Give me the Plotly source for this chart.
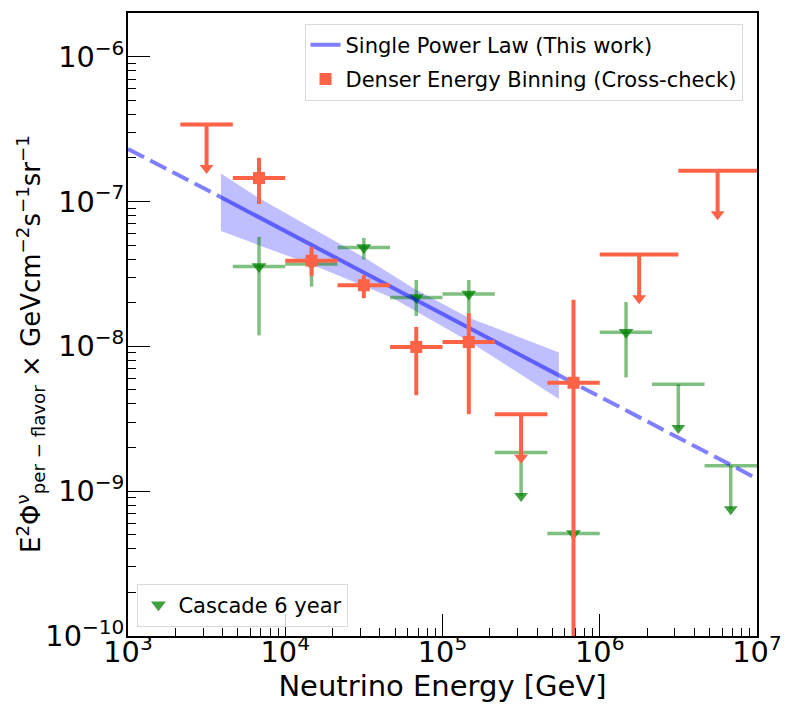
import plotly.graph_objects as go

# Denser energy binning (cross-check): measured points
red_E = [6.81e3, 1.47e4, 3.16e4, 6.81e4, 1.47e5, 6.81e5]
red_lo_E = [4.64e3, 1.0e4, 2.15e4, 4.64e4, 1.0e5, 4.64e5]
red_hi_E = [1.0e4, 2.15e4, 4.64e4, 1.0e5, 2.15e5, 1.0e6]
red_flux = [1.45e-7, 3.9e-8, 2.64e-8, 9.9e-9, 1.07e-8, 5.6e-9]
red_up = [2.0e-7, 4.85e-8, 3.1e-8, 1.36e-8, 1.69e-8, 2.1e-8]
red_low = [9.6e-8, 3.05e-8, 2.15e-8, 4.6e-9, 3.4e-9, 5e-11]

# Denser energy binning: upper limits
red_ul_E = [3.16e3, 3.16e5, 1.78e6, 5.62e6]
red_ul_lo_E = [2.15e3, 2.15e5, 1.0e6, 3.16e6]
red_ul_hi_E = [4.64e3, 4.64e5, 3.16e6, 1.0e7]
red_ul = [3.4e-7, 3.4e-9, 4.3e-8, 1.63e-7]

# Cascade 6 year: measured points
grn_E = [6.81e3, 1.47e4, 3.16e4, 6.81e4, 1.47e5, 6.81e5, 1.47e6]
grn_lo_E = [4.64e3, 1.0e4, 2.15e4, 4.64e4, 1.0e5, 4.64e5, 1.0e6]
grn_hi_E = [1.0e4, 2.15e4, 4.64e4, 1.0e5, 2.15e5, 1.0e6, 2.15e6]
grn_flux = [3.55e-8, 3.7e-8, 4.8e-8, 2.17e-8, 2.3e-8, 5.1e-10, 1.25e-8]
grn_up = [5.7e-8, 4.6e-8, 5.6e-8, 2.87e-8, 2.87e-8, 5.1e-10, 2.02e-8]
grn_low = [1.19e-8, 2.58e-8, 3.98e-8, 1.62e-8, 1.66e-8, 5.1e-10, 6.1e-9]

# Cascade 6 year: upper limits
grn_ul_E = [3.16e5, 3.16e6, 6.81e6]
grn_ul_lo_E = [2.15e5, 2.15e6, 4.64e6]
grn_ul_hi_E = [4.64e5, 4.64e6, 1.0e7]
grn_ul = [1.85e-9, 5.46e-9, 1.5e-9]

# single power law fit (straight in log-log, endpoints)
fit_E = [3.9e3, 5.5e5]
fit_flux = [1.07e-7, 6.3e-9]
ext_left_E = [1.0e3, 3.9e3]
ext_left_flux = [2.3e-7, 1.07e-7]
ext_right_E = [5.5e5, 1.0e7]
ext_right_flux = [6.3e-9, 1.22e-9]

# 1 sigma band
band_up_E = [3.9e3, 6.75e3, 3.2e4, 6.7e4, 1.46e5, 5.5e5]
band_up = [1.56e-7, 1.06e-7, 4.08e-8, 2.48e-8, 1.58e-8, 9.06e-9]
band_low_E = [3.9e3, 1.55e4, 4.75e4, 1.46e5, 5.5e5]
band_low = [6.24e-8, 3.58e-8, 2.17e-8, 1.09e-8, 4.33e-9]

UL_FRAC = 0.5  # arrow length for upper limits

RED = "tomato"
GRN = "rgba(0,128,0,0.5)"
GRN_MK = "rgba(0,128,0,0.75)"
FONT = "DejaVu Sans"

y_title = ("E<sup>2</sup>Φ<sup>ν</sup><sub>per − flavor</sub> × "
           "GeVcm<sup>−2</sup>s<sup>−1</sup>sr<sup>−1</sup>")


def xerr(c, lo, hi):
    return dict(type="data", symmetric=False,
                array=[h - x for x, h in zip(c, hi)],
                arrayminus=[x - l for x, l in zip(c, lo)])


fig = go.Figure()

# band
fig.add_trace(go.Scatter(
    x=band_up_E + band_low_E[::-1], y=band_up + band_low[::-1],
    fill="toself", fillcolor="rgba(0,0,255,0.25)", line=dict(width=0),
    mode="lines", showlegend=False, hoverinfo="skip"))

# green points
fig.add_trace(go.Scatter(
    x=grn_E, y=grn_flux, mode="markers", name="Cascade 6 year",
    marker=dict(symbol="triangle-down", size=13, color=GRN_MK),
    error_x=dict(**xerr(grn_E, grn_lo_E, grn_hi_E), color=GRN, thickness=3.5, width=0),
    error_y=dict(type="data", symmetric=False,
                 array=[u - f for f, u in zip(grn_flux, grn_up)],
                 arrayminus=[f - l for f, l in zip(grn_flux, grn_low)],
                 color=GRN, thickness=3.5, width=0),
    legend="legend2"))

# green upper limits
fig.add_trace(go.Scatter(
    x=grn_ul_E, y=grn_ul, mode="markers", showlegend=False,
    marker=dict(size=1, color="rgba(0,0,0,0)"),
    error_x=dict(**xerr(grn_ul_E, grn_ul_lo_E, grn_ul_hi_E), color=GRN, thickness=3.5, width=0),
    error_y=dict(type="data", symmetric=False, array=[0] * len(grn_ul),
                 arrayminus=[v * UL_FRAC for v in grn_ul],
                 color=GRN, thickness=3.5, width=0)))
fig.add_trace(go.Scatter(
    x=grn_ul_E, y=[v * (1 - UL_FRAC) for v in grn_ul], mode="markers", showlegend=False,
    marker=dict(symbol="triangle-down", size=12, color=GRN_MK)))

# red upper limits
fig.add_trace(go.Scatter(
    x=red_ul_E, y=red_ul, mode="markers", showlegend=False,
    marker=dict(size=1, color="rgba(0,0,0,0)"),
    error_x=dict(**xerr(red_ul_E, red_ul_lo_E, red_ul_hi_E), color=RED, thickness=4, width=0),
    error_y=dict(type="data", symmetric=False, array=[0] * len(red_ul),
                 arrayminus=[v * UL_FRAC for v in red_ul],
                 color=RED, thickness=4, width=0)))
fig.add_trace(go.Scatter(
    x=red_ul_E, y=[v * (1 - UL_FRAC) for v in red_ul], mode="markers", showlegend=False,
    marker=dict(symbol="triangle-down", size=12, color=RED)))

# power law
fig.add_trace(go.Scatter(
    x=ext_left_E + [None] + ext_right_E, y=ext_left_flux + [None] + ext_right_flux,
    mode="lines", line=dict(color="rgba(0,0,255,0.5)", width=4, dash="18px,7px"),
    showlegend=False, hoverinfo="skip"))
fig.add_trace(go.Scatter(
    x=fit_E, y=fit_flux, mode="lines", name="Single Power Law (This work)",
    line=dict(color="rgba(0,0,255,0.5)", width=4), legend="legend", legendgroup="a"))

# red points
fig.add_trace(go.Scatter(
    x=red_E, y=red_flux, mode="markers", name="Denser Energy Binning (Cross-check)",
    marker=dict(symbol="square", size=12, color=RED),
    error_x=dict(**xerr(red_E, red_lo_E, red_hi_E), color=RED, thickness=4, width=0),
    error_y=dict(type="data", symmetric=False,
                 array=[u - f for f, u in zip(red_flux, red_up)],
                 arrayminus=[f - l for f, l in zip(red_flux, red_low)],
                 color=RED, thickness=4, width=0),
    legend="legend", legendgroup="b"))

axis_common = dict(
    type="log", dtick=1, exponentformat="power", showexponent="all",
    showline=True, linecolor="black", linewidth=2, mirror=True,
    ticks="inside", ticklen=22, tickwidth=1, tickcolor="black",
    minor=dict(ticks="inside", ticklen=8, tickwidth=1, tickcolor="black", showgrid=False),
    showgrid=False, zeroline=False,
    tickfont=dict(family=FONT, size=23, color="black"),
)

# page body adds an 8px offset, so the figure is 8px smaller than the window
fig.update_xaxes(
    range=[3, 7],
    ticklabelstandoff=-9,
    title=dict(text="Neutrino Energy [GeV]", font=dict(family=FONT, size=29, color="black"),
               standoff=0),
    **axis_common)
fig.update_yaxes(
    range=[-10, -5.699],
    ticklabelstandoff=-3,
    **axis_common)

fig.add_annotation(
    text=y_title, textangle=-90, xref="paper", yref="paper",
    x=-0.155, y=0.468, xanchor="center", yanchor="middle", showarrow=False,
    font=dict(family=FONT, size=26, color="black"))

fig.update_layout(
    width=781, height=703,
    margin=dict(l=120, r=32, t=3, b=75),
    plot_bgcolor="white", paper_bgcolor="white",
    font=dict(family=FONT, color="black"),
    legend=dict(x=0.977, y=0.983, xanchor="right", yanchor="top",
                bgcolor="rgba(255,255,255,0.8)", bordercolor="#d9d9d9", borderwidth=1,
                font=dict(family=FONT, size=21, color="black"),
                traceorder="grouped", tracegroupgap=4),
    legend2=dict(x=0.015, y=0.015, xanchor="left", yanchor="bottom",
                 bgcolor="rgba(255,255,255,0.8)", bordercolor="#d9d9d9", borderwidth=1,
                 font=dict(family=FONT, size=21, color="black")),
)

fig.write_html("out.html")
